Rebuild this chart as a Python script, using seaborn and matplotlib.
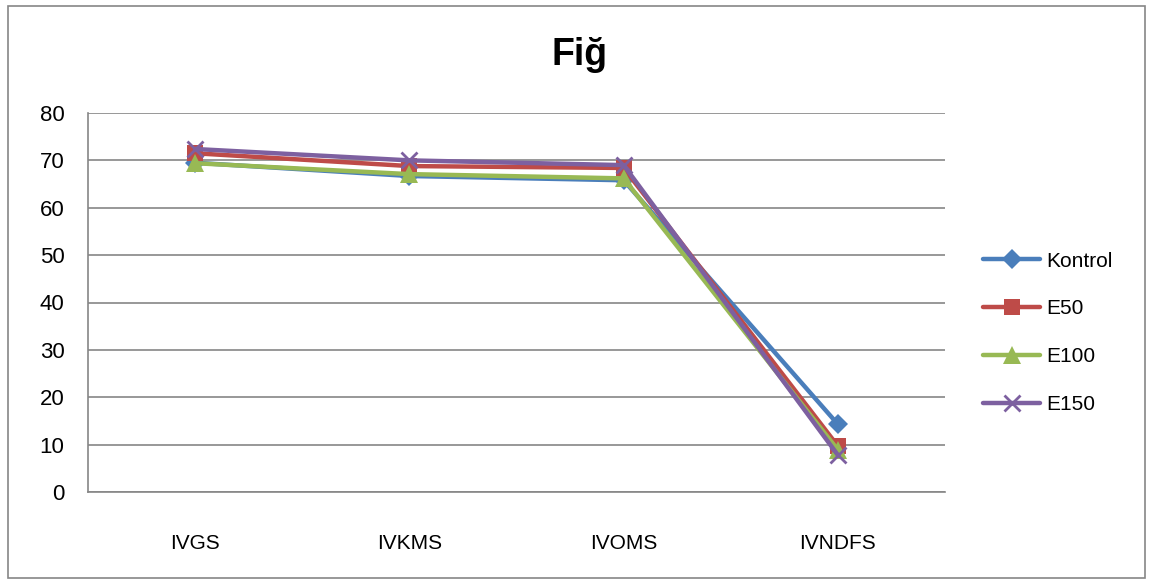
import pandas as pd
import numpy as np
import matplotlib
matplotlib.use('Agg')
import matplotlib.pyplot as plt
import seaborn as sns

categories = ['IVGS', 'IVKMS', 'IVOMS', 'IVNDFS']
series_names = ['Kontrol', 'E50', 'E100', 'E150']
kontrol = [69.5, 66.7, 65.8, 14.3]
e50 = [71.5, 68.8, 68.4, 9.7]
e100 = [69.4, 67.1, 66.2, 8.9]
e150 = [72.4, 70.0, 69.0, 7.8]

df = pd.DataFrame({
    'cat': categories * 4,
    'value': kontrol + e50 + e100 + e150,
    'series': [s for s in series_names for _ in categories],
})
df['x'] = df['cat'].map({c: i for i, c in enumerate(categories)})

sns.set_style('white')
plt.rcParams['font.family'] = ['Liberation Sans', 'DejaVu Sans']
plt.rcParams['text.color'] = 'black'
plt.rcParams['xtick.color'] = 'black'
plt.rcParams['ytick.color'] = 'black'

palette = {'Kontrol': '#4A7EBB', 'E50': '#BE4B48', 'E100': '#98B954', 'E150': '#7D60A0'}
markers = {'Kontrol': 'D', 'E50': 's', 'E100': '^', 'E150': 'x'}
msizes = {'Kontrol': 10, 'E50': 12, 'E100': 13, 'E150': 12}

fig = plt.figure(figsize=(11.53, 5.83), dpi=100)
ax = fig.add_axes([88/1153, 1-492/583, (945-88)/1153, (492-113)/583])

for s in series_names:
    sub = df[df['series'] == s]
    sns.lineplot(data=sub, x='x', y='value', color=palette[s], marker=markers[s],
                 markersize=msizes[s], markeredgewidth=2 if s == 'E150' else 0,
                 markeredgecolor=palette[s], linewidth=3.2, label=s, ax=ax)

ax.set_xlim(-0.5, 3.5)
ax.set_ylim(0, 80)
ax.set_yticks(np.arange(0, 81, 10))
ax.set_xticks(range(4))
ax.set_xticklabels(categories)
ax.tick_params(axis='both', length=0, labelcolor='black')
ax.tick_params(axis='x', pad=30, labelsize=15)
ax.tick_params(axis='y', pad=17, labelsize=16)
ax.set_xlabel('')
ax.set_ylabel('')
ax.yaxis.grid(True, color='#868686', linewidth=1.2)
ax.set_axisbelow(True)
for side in ['top', 'right']:
    ax.spines[side].set_visible(False)
for side in ['left', 'bottom']:
    ax.spines[side].set_color('#868686')
    ax.spines[side].set_linewidth(1.2)

fig.text(580/1153, 1-55/583, 'Fiğ', ha='center', va='center', fontsize=27,
         fontweight='bold', color='black')

ax.legend(loc='center left', bbox_to_anchor=(1.023, 0.42), frameon=False, fontsize=15,
          handlelength=2.7, labelspacing=1.38, handletextpad=0.3)

border = plt.Rectangle((8/1153, 5/583), 1137/1153, 572/583, transform=fig.transFigure,
                       fill=False, edgecolor='#868686', linewidth=1.2)
fig.patches.append(border)

fig.savefig('out.png', dpi=100)
